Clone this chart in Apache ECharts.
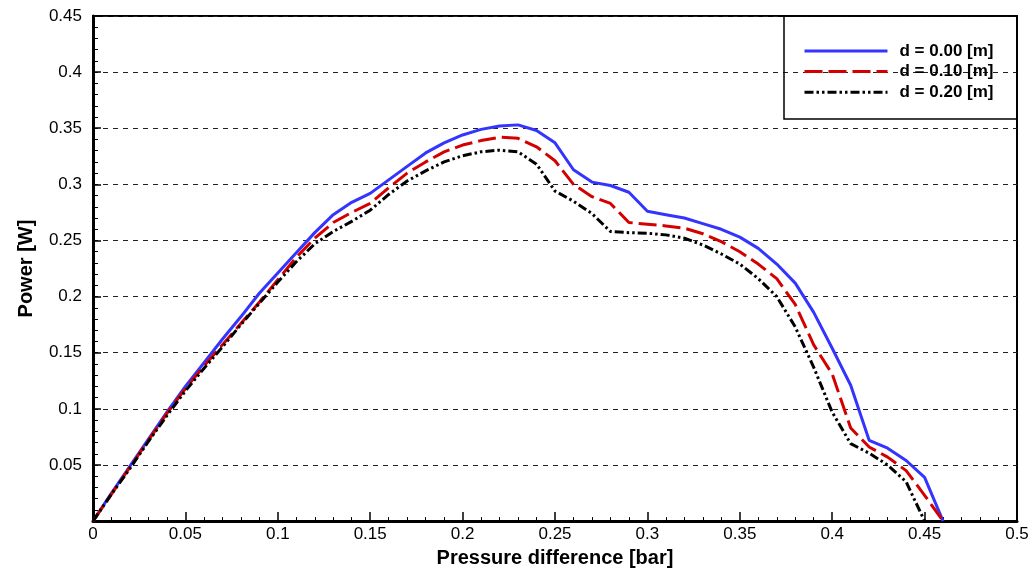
<!DOCTYPE html>
<html>
<head>
<meta charset="utf-8">
<script src="https://cdn.jsdelivr.net/npm/echarts@6/dist/echarts.min.js"></script>
<style>
html,body{margin:0;padding:0;background:#fff;}
#chart{width:1034px;height:573px;}
</style>
</head>
<body>
<div id="chart"></div>
<script>
// Pressure difference [bar]
var pressure = [0,0.01,0.02,0.03,0.04,0.05,0.06,0.07,0.08,0.09,0.10,0.11,0.12,0.13,0.14,0.15,0.16,0.17,0.18,0.19,0.20,0.21,0.22,0.23,0.24,0.25,0.26,0.27,0.28,0.29,0.30,0.31,0.32,0.33,0.34,0.35,0.36,0.37,0.38,0.39,0.40,0.41,0.42,0.43,0.44,0.45,0.46];
// Power [W]
var powerD000 = [0,0.025,0.049,0.073,0.097,0.120,0.141,0.162,0.182,0.203,0.221,0.239,0.257,0.273,0.284,0.292,0.304,0.316,0.328,0.337,0.344,0.349,0.352,0.353,0.348,0.337,0.313,0.302,0.299,0.293,0.276,0.273,0.270,0.265,0.260,0.253,0.243,0.229,0.212,0.186,0.154,0.121,0.072,0.065,0.054,0.039,0];
var powerD010 = [0,0.024,0.048,0.072,0.096,0.118,0.138,0.157,0.176,0.195,0.215,0.235,0.252,0.266,0.275,0.283,0.297,0.310,0.320,0.329,0.335,0.339,0.342,0.341,0.3335,0.321,0.300,0.289,0.283,0.266,0.2645,0.263,0.261,0.256,0.249,0.240,0.229,0.216,0.193,0.157,0.131,0.083,0.066,0.057,0.045,0.023,0];
var powerD020 = [0,0.024,0.047,0.071,0.094,0.116,0.136,0.155,0.175,0.194,0.213,0.231,0.247,0.258,0.267,0.277,0.291,0.303,0.312,0.320,0.3255,0.329,0.3305,0.329,0.318,0.294,0.285,0.274,0.258,0.257,0.2565,0.255,0.252,0.246,0.238,0.229,0.216,0.200,0.173,0.137,0.097,0.069,0.0605,0.050,0.035,0];
var seriesNames = ['d = 0.00 [m]','d = 0.10 [m]','d = 0.20 [m]'];

function pairs(ys){ return ys.map(function(v,i){ return [pressure[i], v]; }); }

var FONT = '"Liberation Sans", Arial, Helvetica, sans-serif';
var chart = echarts.init(document.getElementById('chart'), null, {renderer:'canvas'});
chart.setOption({
  animation:false,
  backgroundColor:'#fff',
  grid:{left:93,right:17,top:16,bottom:46,show:true,borderColor:'#000',borderWidth:2,containLabel:false},
  graphic:[{
    type:'rect',
    shape:{x:784,y:16,width:233,height:103},
    style:{fill:'none',stroke:'#000',lineWidth:1.5},
    z:100
  }],
  legend:{
    data:seriesNames,
    orient:'vertical',
    left:803,
    top:41,
    itemWidth:83,
    itemHeight:20,
    itemGap:0.6,
    padding:0,
    itemStyle:{opacity:0},
    lineStyle:{width:3},
    textStyle:{fontFamily:FONT,fontSize:17,fontWeight:'bold',color:'#000',lineHeight:20,padding:[0,0,0,7]}
  },
  xAxis:{
    type:'value',min:0,max:0.5,interval:0.05,
    name:'Pressure difference [bar]',nameLocation:'middle',nameGap:21,
    nameTextStyle:{fontFamily:FONT,fontSize:20,fontWeight:'bold',color:'#000'},
    axisLine:{show:true,onZero:false,lineStyle:{color:'#000',width:3}},
    axisTick:{show:true,inside:true,length:9,lineStyle:{color:'#000',width:1.5}},
    minorTick:{show:true,splitNumber:5,length:4,lineStyle:{color:'#000',width:1}},
    axisLabel:{fontFamily:FONT,fontSize:17,color:'#000',margin:5},
    splitLine:{show:false}
  },
  yAxis:{
    type:'value',min:0,max:0.45,interval:0.05,
    name:'Power [W]',nameLocation:'middle',nameGap:57,
    nameTextStyle:{fontFamily:FONT,fontSize:20,fontWeight:'bold',color:'#000'},
    axisLine:{show:true,onZero:false,lineStyle:{color:'#000',width:3}},
    axisTick:{show:true,inside:true,length:8,lineStyle:{color:'#000',width:1.5}},
    minorTick:{show:true,splitNumber:5,length:5,lineStyle:{color:'#000',width:1}},
    axisLabel:{fontFamily:FONT,fontSize:17,color:'#000',margin:11,showMinLabel:false},
    splitLine:{show:true,lineStyle:{color:'#222',width:1,type:[5,5]}}
  },
  series:[
    {name:seriesNames[0],type:'line',data:pairs(powerD000),symbol:'none',smooth:false,
     lineStyle:{color:'#3434ff',width:3},itemStyle:{color:'#3434ff'},z:3},
    {name:seriesNames[1],type:'line',data:pairs(powerD010),symbol:'none',smooth:false,
     lineStyle:{color:'#d40000',width:3,type:[18,6]},itemStyle:{color:'#d40000'},z:4},
    {name:seriesNames[2],type:'line',data:pairs(powerD020),symbol:'none',smooth:false,
     lineStyle:{color:'#000',width:3,type:[9,3,2.5,3,2.5,3]},itemStyle:{color:'#000'},z:5}
  ]
});
</script>
</body>
</html>
